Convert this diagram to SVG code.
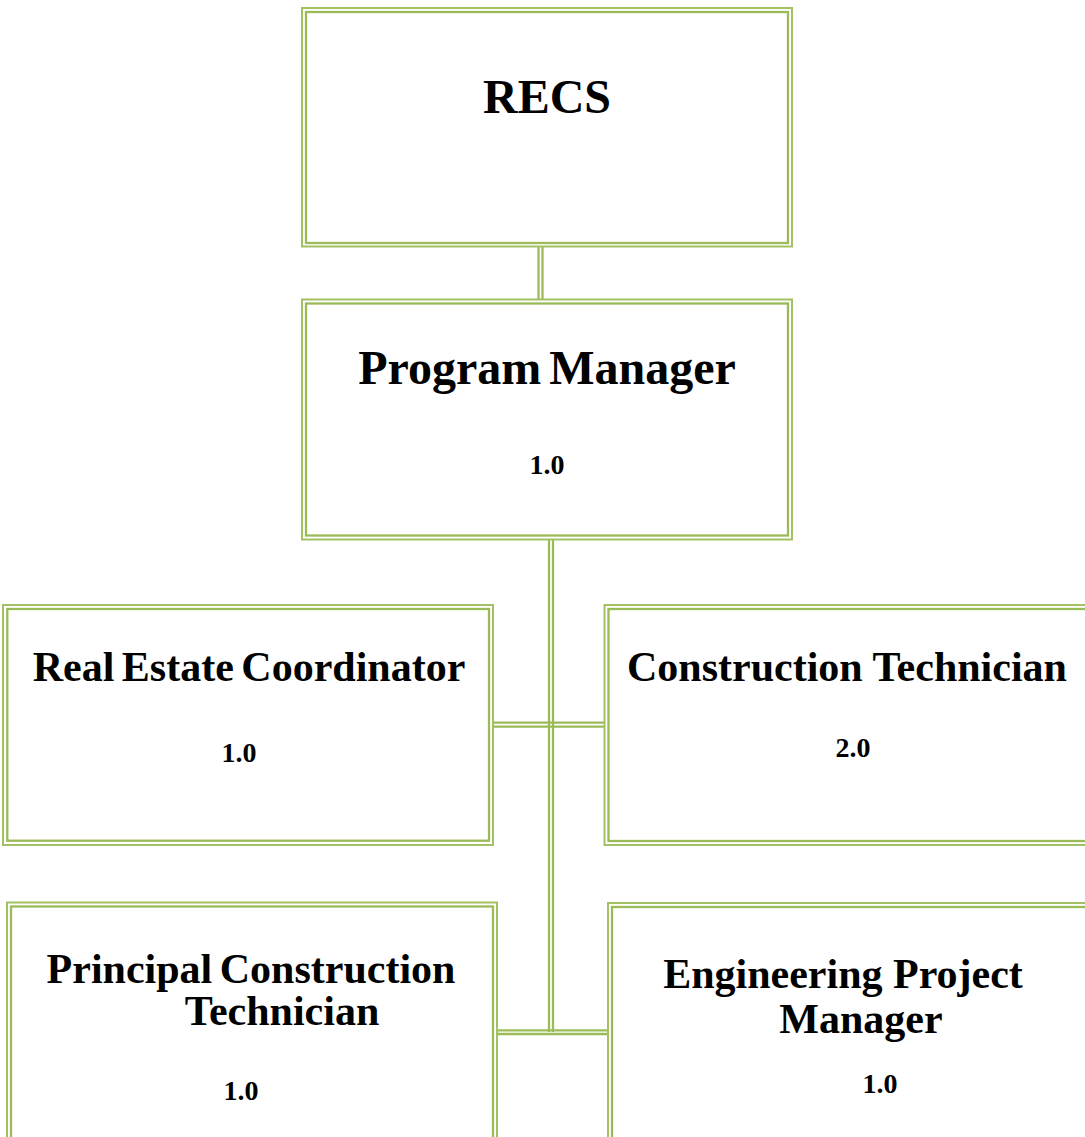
<svg xmlns="http://www.w3.org/2000/svg" width="1085" height="1137" viewBox="0 0 1085 1137">
<style>
.outer{fill:none;stroke:#a3c162;stroke-width:2}
.inner{fill:none;stroke:#9bbb59;stroke-width:2.3}
.conn line{stroke:#9bbb59;stroke-width:2.3}
text{font-family:"Liberation Serif","Times New Roman",serif;font-weight:bold;fill:#000;text-anchor:middle}
.t48{font-size:48px}
.t42{font-size:42px}
.t28{font-size:28px}
</style>
<rect width="1085" height="1137" fill="#fff"/>
<g id="connectors" class="conn">
<line x1="538.5" y1="246" x2="538.5" y2="300"/>
<line x1="542.5" y1="246" x2="542.5" y2="300"/>
<line x1="549" y1="539" x2="549" y2="1032"/>
<line x1="553" y1="539" x2="553" y2="1032"/>
<line x1="493" y1="722.7" x2="604.5" y2="722.7"/>
<line x1="493" y1="726.7" x2="604.5" y2="726.7"/>
<line x1="497" y1="1030.3" x2="608" y2="1030.3"/>
<line x1="497" y1="1034" x2="608" y2="1034"/>
</g>
<g id="recs">
<rect class="outer" x="302" y="8" width="490" height="238.5"/>
<rect class="inner" x="306" y="12" width="482" height="231"/>
<text class="t48" x="547" y="113">RECS</text>
</g>
<g id="program-manager">
<rect class="outer" x="302" y="299.5" width="490" height="240"/>
<rect class="inner" x="306" y="303.5" width="482" height="232"/>
<text class="t48" x="547" y="384" word-spacing="-4">Program Manager</text>
<text class="t28" x="547" y="474">1.0</text>
</g>
<g id="real-estate-coordinator">
<rect class="outer" x="3" y="605" width="490" height="240"/>
<rect class="inner" x="7.3" y="609" width="481.7" height="231.7"/>
<text class="t42" x="249" y="681" word-spacing="-3">Real Estate Coordinator</text>
<text class="t28" x="239" y="762">1.0</text>
</g>
<g id="construction-technician">
<rect class="outer" x="604.5" y="605" width="500" height="240"/>
<rect class="inner" x="608.5" y="609" width="492" height="232"/>
<text class="t42" x="847" y="681">Construction Technician</text>
<text class="t28" x="853" y="757">2.0</text>
</g>
<g id="principal-construction-technician">
<rect class="outer" x="7" y="902.5" width="490" height="250"/>
<rect class="inner" x="11" y="906.5" width="482" height="250"/>
<text class="t42" x="251" y="983" word-spacing="-3">Principal Construction</text>
<text class="t42" x="282" y="1025">Technician</text>
<text class="t28" x="241" y="1100">1.0</text>
</g>
<g id="engineering-project-manager">
<rect class="outer" x="608" y="903" width="500" height="250"/>
<rect class="inner" x="612" y="907" width="492" height="250"/>
<text class="t42" x="843" y="988">Engineering Project</text>
<text class="t42" x="861" y="1033">Manager</text>
<text class="t28" x="880" y="1093">1.0</text>
</g>
</svg>
